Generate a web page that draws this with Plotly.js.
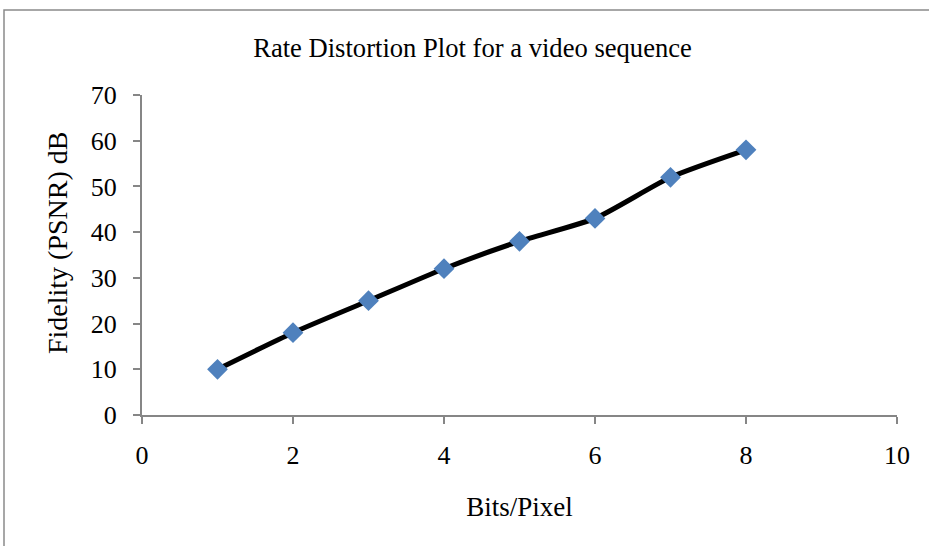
<!DOCTYPE html>
<html>
<head>
<meta charset="utf-8">
<script src="https://cdn.plot.ly/plotly-3.0.1.min.js"></script>
<style>html,body{margin:0;padding:0;background:#fff;}#chart{width:929px;height:546px;}</style>
</head>
<body>
<div id="chart"></div>
<script>
const bitsPerPixel = [1, 2, 3, 4, 5, 6, 7, 8];
const psnr = [10, 18, 25, 32, 38, 43, 52, 58];
const xTicks = [0, 2, 4, 6, 8, 10];
const yTicks = [0, 10, 20, 30, 40, 50, 60, 70];

const font = 'Liberation Serif, Times New Roman, serif';
const axisColor = '#868686';

const trace = {
  x: bitsPerPixel,
  y: psnr,
  type: 'scatter',
  mode: 'lines+markers',
  line: {color: '#000000', width: 5, shape: 'spline', smoothing: 0.6},
  marker: {symbol: 'diamond', size: 16, color: '#4F81BD', line: {width: 0}},
  showlegend: false,
  cliponaxis: false
};

const layout = {
  width: 929, height: 546,
  margin: {l: 142, r: 32, t: 95, b: 131},
  paper_bgcolor: '#ffffff', plot_bgcolor: '#ffffff',
  font: {family: font, color: '#000000', size: 26},
  title: {text: 'Rate Distortion Plot for a video sequence', font: {family: font, size: 26.6, color: '#000'}, x: 472.5 / 929, xanchor: 'center', y: 0.913, yanchor: 'middle'},
  xaxis: {
    range: [0, 10], tickvals: xTicks, ticktext: xTicks.map(String),
    showgrid: false, zeroline: false, showline: true, linecolor: axisColor, linewidth: 2,
    ticks: 'outside', ticklen: 7, tickwidth: 2, tickcolor: axisColor,
    ticklabelstandoff: 9,
    tickfont: {family: font, size: 26, color: '#000'},
    title: {text: 'Bits/Pixel', font: {family: font, size: 27, color: '#000'}, standoff: 28}
  },
  yaxis: {
    range: [0, 70], tickvals: yTicks, ticktext: yTicks.map(String),
    showgrid: false, zeroline: false, showline: true, linecolor: axisColor, linewidth: 2,
    ticks: 'outside', ticklen: 7, tickwidth: 2, tickcolor: axisColor,
    ticklabelstandoff: 11,
    tickfont: {family: font, size: 26, color: '#000'}
  },
  annotations: [{
    text: 'Fidelity (PSNR) dB', textangle: -90, showarrow: false,
    xref: 'paper', yref: 'paper',
    x: (57 - 142) / 755, y: (415 - 243) / 320,
    xanchor: 'center', yanchor: 'middle',
    font: {family: font, size: 28, color: '#000'}
  }],
  shapes: [{
    type: 'rect', xref: 'paper', yref: 'paper',
    x0: (4 - 142) / 755, x1: 1.2,
    y0: -0.6, y1: (415 - 10) / 320,
    line: {color: '#8a8a8a', width: 1.5}, fillcolor: 'rgba(0,0,0,0)', layer: 'below'
  }]
};

Plotly.newPlot('chart', [trace], layout, {displayModeBar: false, staticPlot: true});
</script>
</body>
</html>
